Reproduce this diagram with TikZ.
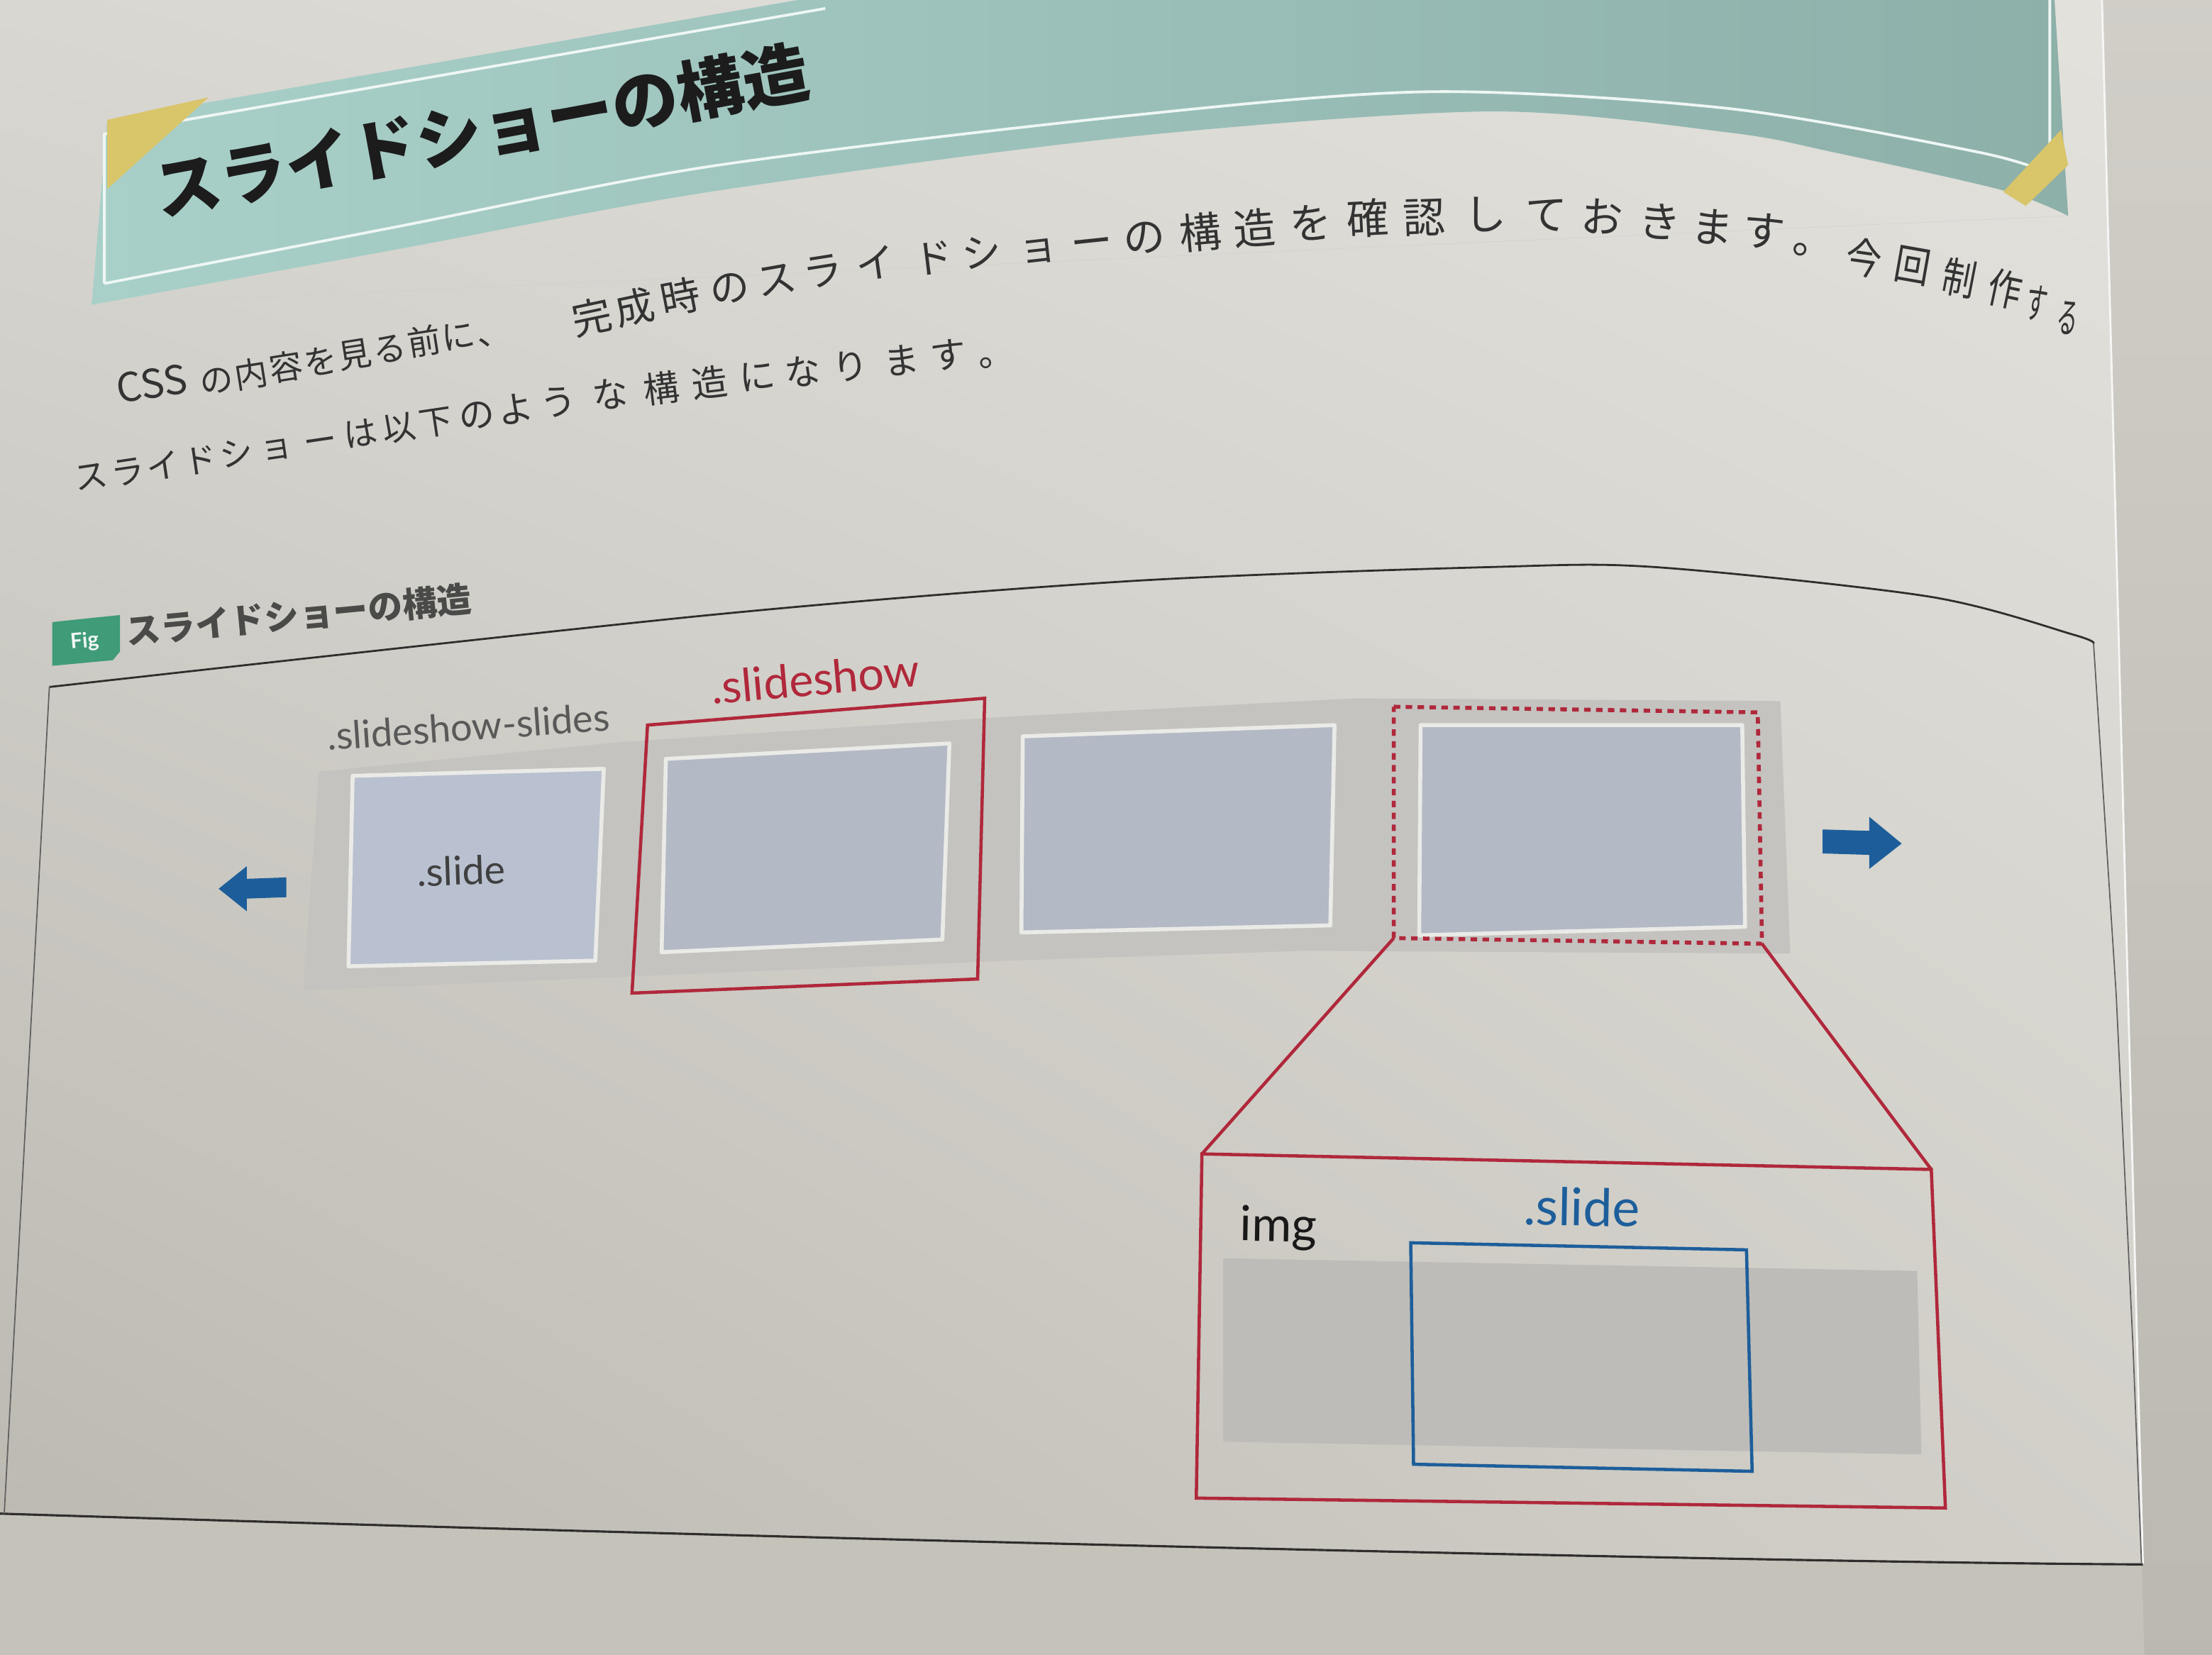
\documentclass[tikz,border=0pt]{standalone}
\usepackage{graphicx}
\usepackage{fontspec}
\setmainfont{Lato}
\newfontfamily\jp{Noto Sans CJK JP}
\usetikzlibrary{shadings}

\definecolor{pageUL}{HTML}{D8D7D2}
\definecolor{pageUR}{HTML}{E3E2DD}
\definecolor{pageLL}{HTML}{BAB7AF}
\definecolor{pageLR}{HTML}{D1CFC8}
\definecolor{under}{HTML}{C5C2BA}
\definecolor{tealL}{HTML}{A8D0C9}
\definecolor{tealR}{HTML}{8DB0A9}
\definecolor{tapeY}{HTML}{D9C56A}
\definecolor{ink}{HTML}{1C1C1C}
\definecolor{bodyink}{HTML}{333333}
\definecolor{capink}{HTML}{4A4A48}
\definecolor{figgreen}{HTML}{3F9B78}
\definecolor{bandgrey}{HTML}{C4C3C0}
\definecolor{slidefill}{HTML}{B3B9C5}
\definecolor{slidefillA}{HTML}{B9C1D0}
\definecolor{slideedge}{HTML}{EAEAE7}
\definecolor{redc}{HTML}{B0283B}
\definecolor{bluec}{HTML}{1D5E9A}
\definecolor{innerband}{HTML}{BDBCB8}
\definecolor{frameink}{HTML}{2F2E2C}

\begin{document}
\begin{tikzpicture}[x=0.02cm, y=-0.02cm,
  slidebox/.style={fill=slidefill, draw=slideedge, line width=1.6pt, line join=round},
  redframe/.style={draw=redc, line width=1.3pt, line join=miter},
  reddash/.style={draw=redc, line width=1.6pt, dash pattern=on 2.6pt off 2.2pt},
  blueframe/.style={draw=bluec, line width=1.3pt},
  blockarrow/.style={fill=bluec, draw=none},
  tag/.style={inner sep=0pt},
  bodych/.style={anchor=base, inner sep=0pt, text=bodyink}]

\useasboundingbox (0,0) rectangle (1568,1173);

% surface under the page
\fill[under] (0,0) rectangle (1568,1173);
\shade[top color=under!80!white, bottom color=under!95!black] (1490,0) -- (1568,0) -- (1568,1173) -- (1520,1173) -- cycle;

% the page
\begin{scope}
  \clip (0,0) -- (1490,0) -- (1519,1109)
        .. controls (1300,1108) and (700,1095) .. (0,1073) -- cycle;
  \shade[upper left=pageUL, upper right=pageUR, lower left=pageLL, lower right=pageLR]
        (0,0) rectangle (1568,1173);
\end{scope}
\draw[white!85!under, line width=0.8pt] (1490,0) -- (1519,1109);
\draw[frameink, line width=0.9pt] (0,1073) .. controls (700,1095) and (1300,1108) .. (1519,1109);

% heading banner
\shade[left color=tealL, right color=tealR]
  (65,216) -- (76,85) -- (600,-6) -- (1456,-6) -- (1466,153)
  plot[smooth] coordinates {(1466,153) (1420,135) (1300,108) (1226,94) (1056,79) (800,97) (503,136) (280,177) (65,216)} -- cycle;
\draw[white!80!tealL, line width=1.1pt]
  (585,6) -- (74,95) -- (74,201)
  plot[smooth] coordinates {(74,201) (280,161) (503,118) (800,82) (1015,65) (1226,77) (1403,108) (1453,123)}
  -- (1453,-6);
\fill[tapeY] (76,85) -- (148,69) -- (76,134) -- cycle;
\fill[tapeY] (1420,136) -- (1461,92) -- (1466,117) -- (1436,146) -- cycle;
\node[anchor=base west, rotate=10.5, inner sep=0pt, text=ink,
      font=\jp\bfseries\fontsize{26.8}{26.8}\selectfont] (title) at (113,153) {スライドショーの構造};

% body text, first line (set glyph by glyph along the curved page)
\node[bodych, anchor=base west, rotate=8.6, font=\jp\fontsize{16}{16}\selectfont] (lineAcss) at (84,286) {CSS};
\foreach \ch/\px/\py/\ang [count=\i] in {の/155/281/8.6, 内/179.5/277/9, 容/204/272/9,
    を/228.5/268/9, 見/253/263/9, る/277.5/259/9, 前/302/254/9, に/326.5/250/9, 、/351/247/9}
  \node[bodych, rotate=\ang, font=\jp\fontsize{13.5}{13.5}\selectfont] (lineAa\i) at (\px,\py-3) {\ch};
\foreach \ch/\px/\py/\ang [count=\i] in {完/422/239/12, 成/452/232/12, 時/484/225/11,
    の/519/218/10, ス/552/212/10, ラ/585/206/9, イ/622/201/8, ド/663/197/7, シ/697/193/7, ョ/737/189/6.5}
  \node[bodych, rotate=\ang, font=\jp\fontsize{16}{16}\selectfont] (lineAb\i) at (\px,\py-4) {\ch};
\foreach \ch/\px/\py/\ang [count=\i] in {ー/775/186/6, の/812/183/5.5, 構/852/180/5, 造/890/177/4.5,
    を/930/173/4, 確/970/170/3, 認/1010/169/2, し/1053/167/1, て/1096/167/-1, お/1135/169/-3,
    き/1176/172/-4, ま/1213/176/-5, す/1249/179/-6, 。/1285/185/-8}
  \node[bodych, rotate=\ang, font=\jp\fontsize{17}{17}\selectfont] (lineAc\i) at (\px,\py-4) {\ch};
\foreach \ch/\px/\py/\ang/\sc [count=\i] in {今/1320/198/-8/0.85, 回/1354/203/-10/0.85,
    制/1387/212/-11/0.8, 作/1419/220/-12/0.8, す/1442/230/-10/0.5, る/1464/240/-10/0.5}
  \node[bodych, rotate=\ang, font=\jp\fontsize{17}{17}\selectfont] (lineAd\i) at (\px,\py-4) {\scalebox{\sc}[1]{\ch}};

% body text, second line
\foreach \ch/\px/\py/\ang [count=\i] in {ス/66/349/8.5, ラ/92/346/8.5, イ/117/342/8.5,
    ド/143/338/8.5, シ/169/333/8.5, ョ/197/328/8.5, ー/228/324/8.5, は/257/319/8.5,
    以/284/315/8.5, 下/310/311/8.5}
  \node[bodych, rotate=\ang, font=\jp\fontsize{13.5}{13.5}\selectfont] (lineBa\i) at (\px,\py-3) {\ch};
\foreach \ch/\px/\py/\ang [count=\i] in {の/339/306/8, よ/367/302/8, う/397/297/8, な/434/292/7,
    構/470/288/7, 造/504/284/7, に/538/279/6.5, な/570/276/6.5, り/604/272/6, ま/640/268/6,
    す/673/264/6, 。/707/262/6}
  \node[bodych, rotate=\ang, font=\jp\fontsize{14.5}{14.5}\selectfont] (lineBb\i) at (\px,\py-3) {\ch};

% figure caption
\fill[figgreen] (37,441) -- (85,436) -- (85,462) -- (80,468) -- (37,472) -- cycle;
\node[rotate=5, inner sep=0pt, text=white!92!figgreen,
      font=\bfseries\fontsize{8.5}{8.5}\selectfont] (figtag) at (60,455) {Fig};
\node[anchor=base west, rotate=5.5, inner sep=0pt, text=capink,
      font=\jp\bfseries\fontsize{14}{14}\selectfont] (caption) at (90,457) {スライドショーの構造};

% figure frame
\draw[frameink, line width=0.8pt]
  plot[smooth] coordinates {(35,487) (503,436) (800,412) (1056,402) (1173,402) (1368,423) (1470,450) (1484,456)};
\draw[gray!75!black, line width=0.5pt] (35,487) -- (3,1073);
\draw[gray!75!black, line width=0.5pt] (1484,456) -- (1500,704) -- (1512,955) -- (1518,1108);

% slide strip
\fill[bandgrey] (226,547) -- (441,526) -- (715,508) -- (961,495) -- (1262,497)
  -- (1269,676) -- (926,674) -- (715,681) -- (215,702) -- cycle;
\draw[slidebox, fill=slidefillA] (250,550) -- (428,545) -- (422,681) -- (247,685) -- cycle;
\draw[slidebox] (472,538) -- (673,527) -- (668,666) -- (469,675) -- cycle;
\draw[slidebox] (725,522) -- (946,514) -- (943,656) -- (724,661) -- cycle;
\draw[slidebox] (1007,514) -- (1235,514) -- (1237,657) -- (1006,663) -- cycle;

\draw[redframe] (459,514) -- (698,495) -- (693,694) -- (448,704) -- cycle;
\coordinate (dashTL) at (988,501);
\coordinate (dashTR) at (1246,505);
\coordinate (dashBR) at (1249,669);
\coordinate (dashBL) at (988,665);
\draw[reddash] (dashTL) -- (dashTR) -- (dashBR) -- (dashBL) -- cycle;

\node[tag, rotate=4, text=black!65, font=\fontsize{15.5}{15.5}\selectfont] (stripname) at (332,515) {.slideshow-slides};
\node[tag, rotate=5, text=redc, font=\fontsize{18.5}{18.5}\selectfont] (showname) at (578,481) {.slideshow};
\node[tag, rotate=2, text=black!75, font=\fontsize{16}{16}\selectfont] (slidename) at (327,617) {.slide};

% movement arrows
\fill[blockarrow] (155,630) -- (175,614) -- (175,623) -- (203,622) -- (203,636) -- (175,637) -- (175,646) -- cycle;
\fill[blockarrow] (1348,598) -- (1325,579) -- (1325,589) -- (1292,588) -- (1292,605) -- (1325,606) -- (1325,616) -- cycle;

% enlarged view
\coordinate (zoomTL) at (852,818);
\coordinate (zoomTR) at (1369,829);
\coordinate (zoomBR) at (1379,1069);
\coordinate (zoomBL) at (848,1062);
\draw[redframe] (dashBL) -- (zoomTL);
\draw[redframe] (dashBR) -- (zoomTR);
\draw[redframe] (zoomTL) -- (zoomTR) -- (zoomBR) -- (zoomBL) -- cycle;
\fill[innerband] (867,892) -- (1359,901) -- (1362,1031) -- (867,1022) -- cycle;
\draw[blueframe] (1000,881) -- (1238,886) -- (1242,1043) -- (1002,1038) -- cycle;
\node[tag, anchor=base, rotate=-1, text=black!90, font=\fontsize{19.5}{19.5}\selectfont] (imgname) at (906,880) {img};
\node[tag, anchor=base, rotate=-1, text=bluec, font=\fontsize{21}{21}\selectfont] (zoomslide) at (1121,869) {.slide};

\end{tikzpicture}
\end{document}
